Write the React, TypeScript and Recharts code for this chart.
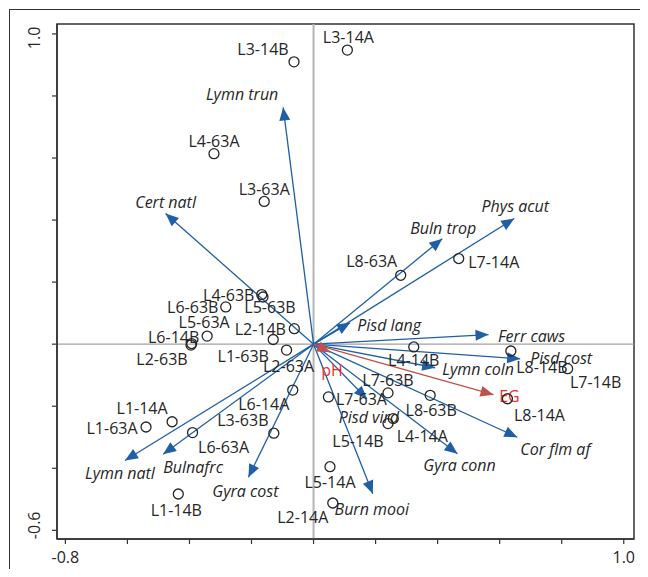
import { ReferenceArea, ReferenceLine, Scatter, ScatterChart, XAxis, YAxis } from "recharts"

const W = 632
const H = 561
const Y_AXIS_W = 49
const X_AXIS_H = 30
const MARGIN = { top: 16, right: 6, bottom: 0, left: 0 }
const PLOT_W = W - MARGIN.right - Y_AXIS_W
const PLOT_H = H - MARGIN.top - X_AXIS_H

const X_DOMAIN = [-0.827, 1.033]
const Y_DOMAIN = [-0.628, 1.032]
const X_TICKS = [-0.8, -0.6, -0.4, -0.2, 0, 0.2, 0.4, 0.6, 0.8, 1.0]
const Y_TICKS = [-0.6, -0.4, -0.2, 0, 0.2, 0.4, 0.6, 0.8, 1.0]
const X_LABELLED = [-0.8, 1.0]
const Y_LABELLED = [-0.6, 1.0]

// pixels per unit, used only to orient the arrowheads
const KX = PLOT_W / (X_DOMAIN[1] - X_DOMAIN[0])
const KY = PLOT_H / (Y_DOMAIN[1] - Y_DOMAIN[0])

// sites
const SITE_NAMES = [
  "L3-14B", "L3-14A", "L4-63A", "L3-63A", "L8-63A", "L7-14A", "L4-63B", "L5-63B",
  "L6-63B", "L5-63A", "L6-14B", "L2-63B", "L2-14B", "L1-63B", "L2-63A", "L6-14A",
  "L3-63B", "L1-14A", "L1-63A", "L6-63A", "L1-14B", "L2-14A", "L5-14A", "L7-63A",
  "L7-63B", "L8-63B", "L5-14B", "L4-14A", "L4-14B", "L8-14B", "L7-14B", "L8-14A",
]
const SITE_X = [
  -0.063, 0.109, -0.321, -0.159, 0.281, 0.468, -0.167, -0.163,
  -0.283, -0.343, -0.393, -0.395, -0.062, -0.130, -0.087, -0.067,
  -0.128, -0.456, -0.540, -0.390, -0.436, 0.062, 0.053, 0.048,
  0.240, 0.376, 0.240, 0.257, 0.323, 0.636, 0.819, 0.625,
]
const SITE_Y = [
  0.910, 0.948, 0.614, 0.460, 0.222, 0.276, 0.160, 0.152,
  0.120, 0.026, 0.002, -0.003, 0.050, 0.015, -0.019, -0.148,
  -0.287, -0.250, -0.267, -0.285, -0.483, -0.512, -0.395, -0.170,
  -0.157, -0.165, -0.256, -0.240, -0.009, -0.022, -0.079, -0.176,
]

// species vectors
const SPECIES_NAMES = [
  "Lymn trun", "Cert natl", "Phys acut", "Buln trop", "Pisd lang", "Ferr caws",
  "Pisd cost", "Lymn coln", "Cor flm af", "Gyra conn", "Pisd vird", "Burn mooi",
  "Gyra cost", "Bulnafrc", "Lymn natl",
]
const SPECIES_X = [
  -0.098, -0.477, 0.647, 0.415, 0.118, 0.564,
  0.666, 0.392, 0.657, 0.464, 0.172, 0.191,
  -0.210, -0.485, -0.608,
]
const SPECIES_Y = [
  0.763, 0.421, 0.405, 0.340, 0.069, 0.031,
  -0.047, -0.076, -0.300, -0.353, -0.176, -0.482,
  -0.429, -0.355, -0.375,
]

// environmental vectors
const ENV_NAMES = ["EG", "pH"]
const ENV_X = [0.58, 0.053]
const ENV_Y = [-0.163, -0.026]

// label placement relative to the mark, px
const LABEL_OFFSET: Record<string, [number, number]> = {
  "L3-14B": [-31, -13], "L3-14A": [1, -13], "L4-63A": [0, -13], "L3-63A": [0, -12],
  "L8-63A": [-29, -14], "L7-14A": [35, 3], "L4-63B": [-33, 0], "L5-63B": [7, 10],
  "L6-63B": [-33, 0], "L5-63A": [-3, -14], "L6-14B": [-18, -7], "L2-63B": [-29, 14],
  "L2-14B": [-34, 0], "L1-63B": [-30, 16], "L2-63A": [2, 16], "L6-14A": [-29, 14],
  "L3-63B": [-31, -13], "L1-14A": [-30, -14], "L1-63A": [-34, 1], "L6-63A": [31, 14],
  "L1-14B": [-2, 16], "L2-14A": [-30, 14], "L5-14A": [0, 15], "L7-63A": [33, 2],
  "L7-63B": [0, -13], "L8-63B": [1, 15], "L5-14B": [-30, 17], "L4-14A": [29, 17],
  "L4-14B": [0, 13], "L8-14B": [31, 16], "L7-14B": [28, 13], "L8-14A": [32, 16],
  "Lymn trun": [-41, -13], "Cert natl": [0, -12], "Phys acut": [1, -13], "Buln trop": [1, -11],
  "Pisd lang": [39, 2], "Ferr caws": [43, 1], "Pisd cost": [41, -1], "Lymn coln": [43, 1],
  "Cor flm af": [38, 12], "Gyra conn": [2, 11], "Pisd vird": [2, 18], "Burn mooi": [-1, 15],
  "Gyra cost": [-3, 14], "Bulnafrc": [30, 13], "Lymn natl": [-5, 12],
  EG: [16, 1], pH: [2, 18],
}

const BLUE = "#1f5fa6"
const RED_LINE = "#c0504d"
const RED_TEXT = "#e8302f"
const INK = "#262626"
const FONT = "'Open Sans', 'Noto Sans', sans-serif"

const sites = SITE_NAMES.map((name, i) => ({ name, x: SITE_X[i], y: SITE_Y[i] }))
const vectors = [
  ...SPECIES_NAMES.map((name, i) => ({ name, x: SPECIES_X[i], y: SPECIES_Y[i], env: false })),
  ...ENV_NAMES.map((name, i) => ({ name, x: ENV_X[i], y: ENV_Y[i], env: true })),
]

function SiteMark(props: any) {
  const { cx, cy, payload } = props
  const [dx, dy] = LABEL_OFFSET[payload.name] ?? [0, -13]
  return (
    <g>
      <circle cx={cx} cy={cy} r={5} fill="none" stroke={INK} strokeWidth={1.3} />
      <text
        x={cx + dx}
        y={cy + dy}
        textAnchor="middle"
        dominantBaseline="central"
        fontFamily={FONT}
        fontSize={16}
        fill={INK}
      >
        {payload.name}
      </text>
    </g>
  )
}

function ArrowTip(props: any) {
  const { cx, cy, payload, env } = props
  if (!payload || (payload.x === 0 && payload.y === 0)) return <g />
  const vx = payload.x * KX
  const vy = -payload.y * KY
  const len = Math.hypot(vx, vy) || 1
  const ux = vx / len
  const uy = vy / len
  const L = 13
  const hw = 5.5
  const bx = cx - ux * L
  const by = cy - uy * L
  const pts = `${cx},${cy} ${bx - uy * hw},${by + ux * hw} ${bx + uy * hw},${by - ux * hw}`
  const [dx, dy] = LABEL_OFFSET[payload.name] ?? [0, -12]
  return (
    <g>
      <polygon points={pts} fill={env ? RED_LINE : BLUE} />
      <text
        x={cx + dx}
        y={cy + dy}
        textAnchor="middle"
        dominantBaseline="central"
        fontFamily={FONT}
        fontSize={16}
        fontStyle={env ? "normal" : "italic"}
        fill={env ? RED_TEXT : INK}
      >
        {payload.name}
      </text>
    </g>
  )
}

function XTick(props: any) {
  const { x, y, payload } = props
  if (!X_LABELLED.includes(payload.value)) return <g />
  return (
    <text x={x} y={y} dy={17} textAnchor="middle" fontFamily={FONT} fontSize={16} fill={INK}>
      {payload.value.toFixed(1)}
    </text>
  )
}

function YTick(props: any) {
  const { x, y, payload } = props
  if (!Y_LABELLED.includes(payload.value)) return <g />
  // end labels sit slightly inside their tick, as in the original
  const shift = payload.value > 0 ? 4 : -5
  return (
    <text
      transform={`translate(${x - 16}, ${y + shift}) rotate(-90)`}
      textAnchor="middle"
      dominantBaseline="central"
      fontFamily={FONT}
      fontSize={16}
      fill={INK}
    >
      {payload.value.toFixed(1)}
    </text>
  )
}

export default function App() {
  return (
    <div style={{ position: "relative", width: W, height: H, overflow: "hidden" }}>
      <div
        style={{
          position: "absolute",
          left: 1,
          top: 1,
          width: 2000,
          height: 2000,
          borderLeft: "1.5px solid #333",
          borderTop: "1.5px solid #333",
        }}
      />
      <ScatterChart width={W} height={H} margin={MARGIN}>
        <XAxis
          type="number"
          dataKey="x"
          domain={X_DOMAIN}
          ticks={X_TICKS}
          allowDataOverflow
          height={X_AXIS_H}
          tickSize={5}
          tickMargin={2}
          axisLine={{ stroke: "#333", strokeWidth: 1.5 }}
          tickLine={{ stroke: "#333", strokeWidth: 1.2 }}
          tick={<XTick />}
          interval={0}
        />
        <YAxis
          type="number"
          dataKey="y"
          domain={Y_DOMAIN}
          ticks={Y_TICKS}
          allowDataOverflow
          width={Y_AXIS_W}
          tickSize={5}
          tickMargin={2}
          axisLine={{ stroke: "#333", strokeWidth: 1.5 }}
          tickLine={{ stroke: "#333", strokeWidth: 1.2 }}
          tick={<YTick />}
          interval={0}
        />
        <ReferenceArea
          x1={X_DOMAIN[0]}
          x2={X_DOMAIN[1]}
          y1={Y_DOMAIN[0]}
          y2={Y_DOMAIN[1]}
          fill="none"
          stroke="#333"
          strokeWidth={1.5}
        />
        <ReferenceLine x={0} stroke="#b4b4b4" strokeWidth={2} />
        <ReferenceLine y={0} stroke="#a0a0a0" strokeWidth={1.2} />
        {vectors.map((v) => (
          <Scatter
            key={v.name}
            data={[{ name: "", x: 0, y: 0 }, { name: v.name, x: v.x, y: v.y }]}
            line={{ stroke: v.env ? RED_LINE : BLUE, strokeWidth: 1.3 }}
            shape={(p: any) => <ArrowTip {...p} env={v.env} />}
            isAnimationActive={false}
          />
        ))}
        <Scatter data={sites} shape={(p: any) => <SiteMark {...p} />} isAnimationActive={false} />
      </ScatterChart>
    </div>
  )
}
